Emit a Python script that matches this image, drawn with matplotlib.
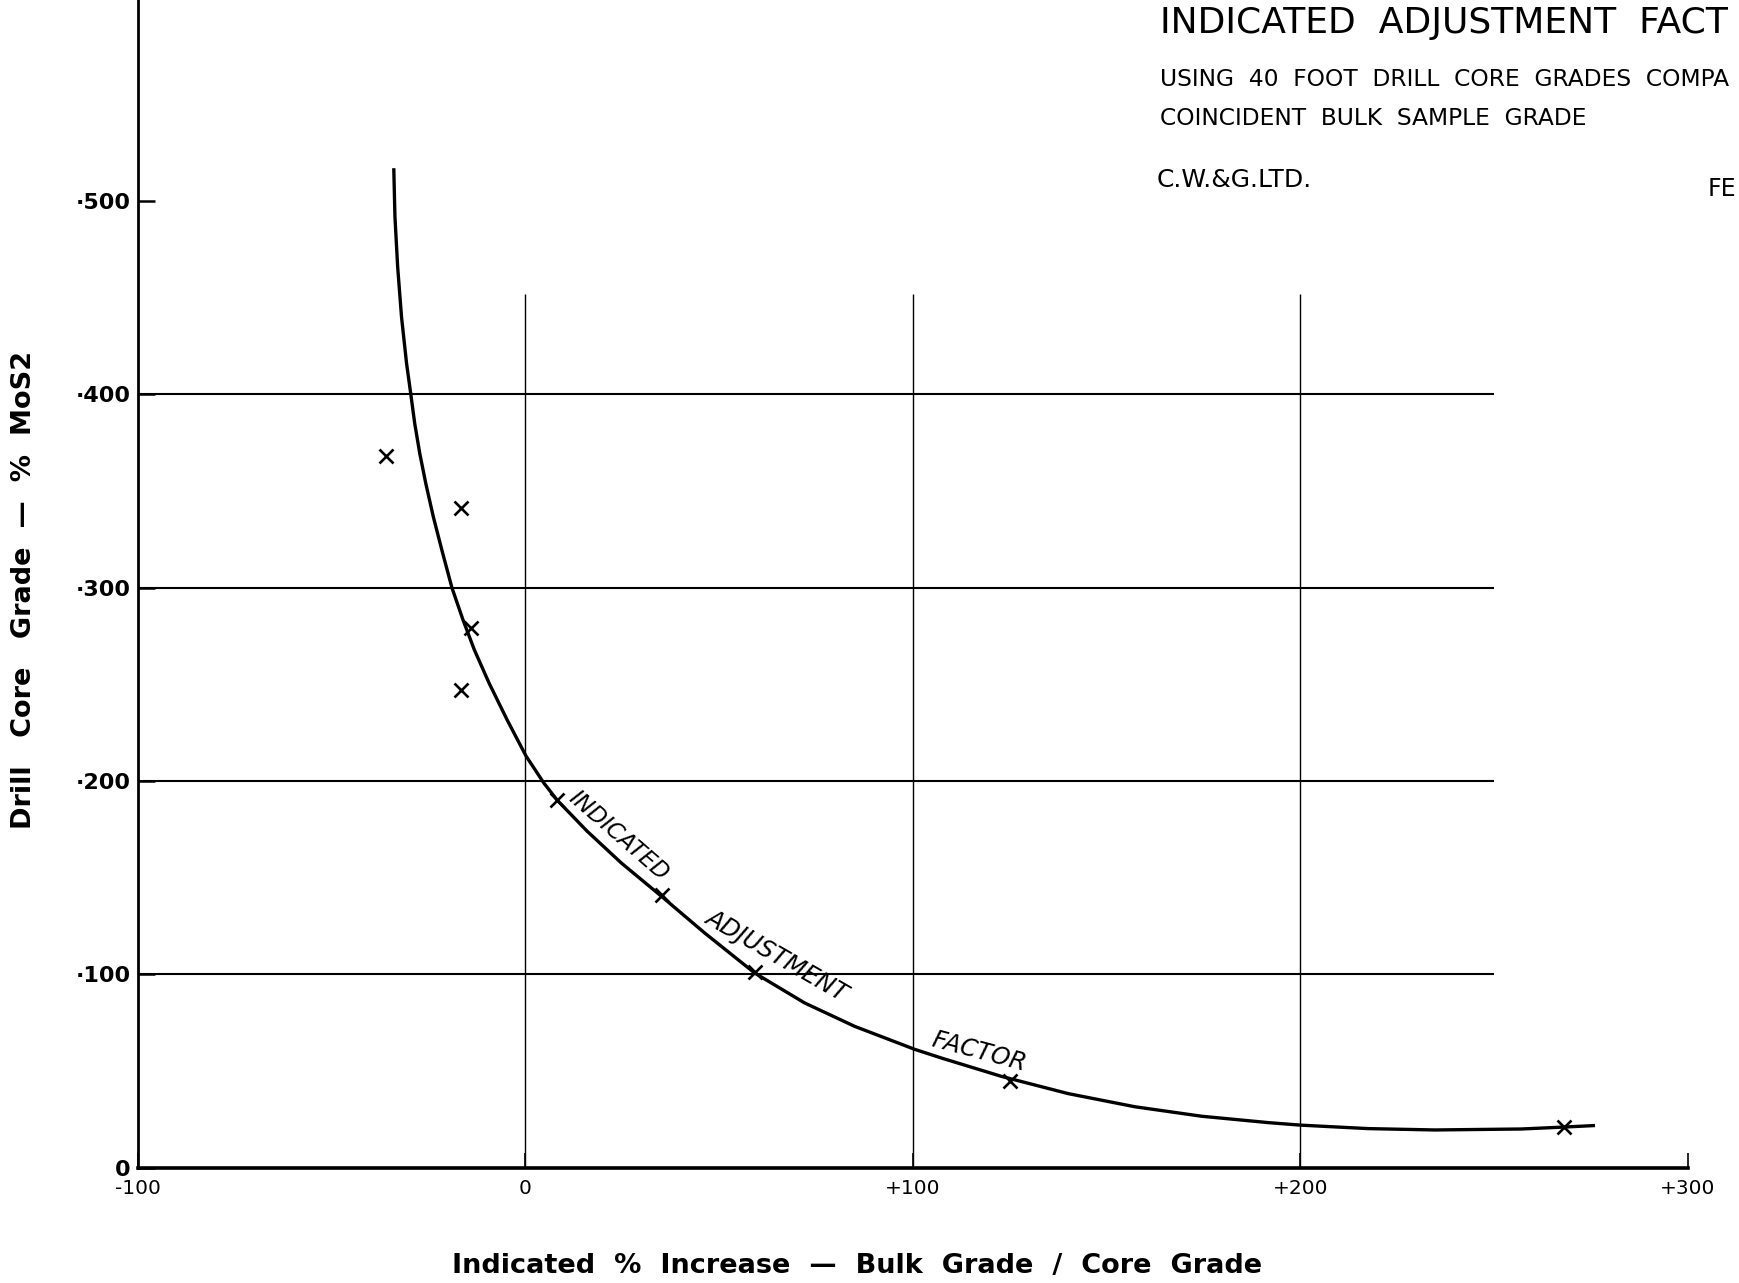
import matplotlib
matplotlib.use("Agg")
import matplotlib.pyplot as plt

# Curva "indicated adjustment factor"
curva_x = [-33.9, -33.6, -32.9, -31.9, -30.6, -29.5, -28.5, -27.2, -25.65, -23.7,
           -21.5, -18.9, -16.05, -13.1, -9.3, -4.65, 0.2, 4.8, 8.3, 16.0,
           24.8, 35.2, 46.3, 59.2, 72.1, 85.0, 100.5, 107.4, 122.9, 140.1,
           157.3, 174.5, 191.7, 200.0, 217.5, 234.7, 257.0, 268.0, 276.0]
curva_y = [517, 492, 466, 440, 416, 400, 385, 369.5, 354, 336.7,
           319.5, 300, 283.4, 267.8, 250.6, 231.6, 213, 199, 190, 174,
           157.6, 140.3, 121.4, 100.7, 85.2, 73.1, 61.2, 56.7, 47.2, 38.3,
           31.5, 26.6, 23.3, 22.0, 20.2, 19.5, 20.0, 21.0, 21.8]

# Puntos medidos (x)
pts_x = [-35.8, -16.6, -14.1, -16.6, 8.3, 35.2, 59.2, 125.0, 268.0]
pts_y = [368, 341, 279, 247, 190, 141, 101, 45, 21]

# Ejes
x_ticks = [-100, 0, 100, 200, 300]
x_labels = ['-100', '0', '+100', '+200', '+300']
y_ticks = [0, 100, 200, 300, 400, 500]
y_labels = ['0', '\u00b7100', '\u00b7200', '\u00b7300', '\u00b7400', '\u00b7500']
grid_h = [100, 200, 300, 400]
grid_v = [0, 100, 200]

fig = plt.figure(figsize=(17.39, 12.83), dpi=100)
ax = fig.add_axes([0.0791, 0.0899, 0.9707 - 0.0791, 1.0 - 0.0899])
ax.set_xlim(-100, 300)
ax.set_ylim(0, 604)

for s in ['top', 'right']:
    ax.spines[s].set_visible(False)
ax.spines['left'].set_linewidth(2.0)
ax.spines['bottom'].set_linewidth(2.6)

# Reticula
ax.hlines(grid_h, -100, 250, colors='black', linewidth=1.5, zorder=1)
ax.vlines(grid_v, 0, 452, colors='black', linewidth=1.0, zorder=1)

# Curva y puntos
ax.plot(curva_x, curva_y, color='black', linewidth=2.4, solid_capstyle='butt',
        solid_joinstyle='round', zorder=3)
ax.plot(pts_x, pts_y, linestyle='none', marker='x', color='black',
        markersize=10, markeredgewidth=1.9, zorder=4)

# Texto sobre la curva
ax.text(24.0, 171.5, 'INDICATED', rotation=-41, fontsize=16.5, fontstyle='italic',
        ha='center', va='center', rotation_mode='anchor')
ax.text(64.8, 109.6, 'ADJUSTMENT', rotation=-30, fontsize=17.5, fontstyle='italic',
        ha='center', va='center', rotation_mode='anchor')
ax.text(117, 60, 'FACTOR', rotation=-15, fontsize=17.5, fontstyle='italic',
        ha='center', va='center', rotation_mode='anchor')

# Ticks
ax.set_xticks(x_ticks)
ax.set_xticklabels(x_labels, fontsize=14.5)
ax.set_yticks(y_ticks)
ax.set_yticklabels(y_labels, fontsize=16, fontweight='bold')
ax.tick_params(axis='y', direction='in', length=12, width=1.8, pad=5)
ax.tick_params(axis='x', direction='in', length=11, width=1.2, pad=8)

# Titulos
fig.text(0.014, 0.54, 'Drill   Core   Grade  \u2014  %  MoS2', rotation=90,
         fontsize=19.5, fontweight='bold', ha='center', va='center')
fig.text(0.493, 0.013, 'Indicated  %  Increase  \u2014  Bulk  Grade  /  Core  Grade',
         fontsize=19.5, fontweight='bold', ha='center', va='center')

fig.text(0.667, 0.982, 'INDICATED  ADJUSTMENT  FACT', fontsize=26,
         ha='left', va='center')
fig.text(0.667, 0.9378, 'USING  40  FOOT  DRILL  CORE  GRADES  COMPA',
         fontsize=16.8, ha='left', va='center')
fig.text(0.667, 0.9075, 'COINCIDENT  BULK  SAMPLE  GRADE', fontsize=16.8,
         ha='left', va='center')
fig.text(0.665, 0.86, 'C.W.&G.LTD.', fontsize=18, ha='left', va='center')
fig.text(0.982, 0.853, 'FE', fontsize=17, ha='left', va='center')

fig.savefig('out.png', dpi=100)
